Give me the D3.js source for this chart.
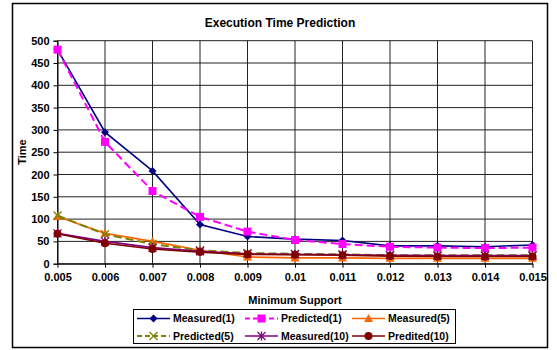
<!DOCTYPE html>
<html>
<head>
<meta charset="utf-8">
<script src="https://cdn.jsdelivr.net/npm/d3@7"></script>
<style>
  body { margin: 0; background: #fff; }
  svg text { font-family: "Liberation Sans", Arial, sans-serif; font-weight: bold; fill: #000; }
</style>
</head>
<body>
<div id="chart"></div>
<script>
// minimum support values (x categories)
const supports = ["0.005", "0.006", "0.007", "0.008", "0.009", "0.01", "0.011", "0.012", "0.013", "0.014", "0.015"];
const yTicks = [0, 50, 100, 150, 200, 250, 300, 350, 400, 450, 500];

const measured1  = [480, 295, 208, 88, 61, 55, 52, 40, 40, 38, 42];
const predicted1 = [480, 273, 163, 105, 72, 53, 44, 38, 36, 35, 36];
const measured5  = [106, 68, 50, 30, 15, 13, 13, 12, 12, 12, 12];
const predicted5 = [108, 66, 44, 30, 24, 22, 21, 19, 19, 19, 19];
const measured10 = [68, 50, 36, 28, 22, 21, 20, 19, 18, 18, 18];
const predited10 = [67, 46, 33, 26, 21, 20, 19, 17, 16, 16, 16];

const seriesList = [
  {name: "Measured(1)",  values: measured1,  color: "#000080", marker: "diamond", dash: null},
  {name: "Predicted(1)", values: predicted1, color: "#FF00FF", marker: "square",  dash: "8,4"},
  {name: "Measured(5)",  values: measured5,  color: "#FF6600", marker: "triangle", dash: null},
  {name: "Predicted(5)", values: predicted5, color: "#808000", marker: "x",       dash: "8,4"},
  {name: "Measured(10)", values: measured10, color: "#800080", marker: "star",    dash: null},
  {name: "Predited(10)", values: predited10, color: "#800000", marker: "circle",  dash: null}
];

const width = 557, height = 350;
const plot = {left: 57.5, right: 532.5, top: 40.7, bottom: 263.7};

const svg = d3.select("#chart").append("svg")
    .attr("width", width)
    .attr("height", height);

// outer chart border
svg.append("rect")
    .attr("x", 12.5).attr("y", 3.5)
    .attr("width", 535).attr("height", 344)
    .attr("fill", "#fff")
    .attr("stroke", "#000")
    .attr("stroke-width", 1.5);

const xScale = d3.scalePoint().domain(supports).range([plot.left, plot.right]);
const yScale = d3.scaleLinear().domain([0, 500]).range([plot.bottom, plot.top]);

// grid
const grid = svg.append("g").attr("stroke", "#222").attr("stroke-width", 1);
grid.selectAll(".h").data(yTicks).join("line")
    .attr("x1", plot.left).attr("x2", plot.right)
    .attr("y1", d => yScale(d)).attr("y2", d => yScale(d));
grid.selectAll(".v").data(supports).join("line")
    .attr("x1", d => xScale(d)).attr("x2", d => xScale(d))
    .attr("y1", plot.top).attr("y2", plot.bottom);

// axes
svg.append("g")
    .attr("transform", `translate(${plot.left},0)`)
    .call(d3.axisLeft(yScale).tickValues(yTicks).tickSize(4).tickPadding(4))
    .call(g => g.selectAll("text").style("font-size", "11px"))
    .call(g => g.selectAll("line, path").attr("stroke", "#000"));

svg.append("g")
    .attr("transform", `translate(0,${plot.bottom})`)
    .call(d3.axisBottom(xScale).tickSize(4).tickPadding(6).tickSizeOuter(0))
    .call(g => g.selectAll("text").style("font-size", "11px"))
    .call(g => g.selectAll("line, path").attr("stroke", "#000"));

// titles
svg.append("text")
    .attr("x", 280).attr("y", 27)
    .attr("text-anchor", "middle")
    .style("font-size", "12px")
    .text("Execution Time Prediction");

svg.append("text")
    .attr("x", 295).attr("y", 304)
    .attr("text-anchor", "middle")
    .style("font-size", "11px")
    .text("Minimum Support");

svg.append("text")
    .attr("transform", "translate(26,152) rotate(-90)")
    .attr("text-anchor", "middle")
    .style("font-size", "11px")
    .text("Time");

function drawMarker(g, type, color) {
  if (type === "diamond") {
    g.append("path").attr("d", "M0,-4L4,0L0,4L-4,0Z").attr("fill", color);
  } else if (type === "square") {
    g.append("rect").attr("x", -4).attr("y", -4).attr("width", 8).attr("height", 8).attr("fill", color);
  } else if (type === "triangle") {
    g.append("path").attr("d", "M0,-4.5L4.5,3.5L-4.5,3.5Z").attr("fill", color);
  } else if (type === "x") {
    g.append("path").attr("d", "M-4,-4L4,4M-4,4L4,-4").attr("stroke", color).attr("stroke-width", 1.3);
  } else if (type === "star") {
    g.append("path").attr("d", "M-4,-4L4,4M-4,4L4,-4M0,-4.5L0,4.5").attr("stroke", color).attr("stroke-width", 1.3);
  } else if (type === "circle") {
    g.append("circle").attr("r", 4).attr("fill", color);
  }
}

const line = d3.line()
    .x((d, i) => xScale(supports[i]))
    .y(d => yScale(d));

// draw series
seriesList.forEach(s => {
  const g = svg.append("g");
  g.append("path")
      .attr("d", line(s.values))
      .attr("fill", "none")
      .attr("stroke", s.color)
      .attr("stroke-width", s.dash ? 2 : 1.6)
      .attr("stroke-dasharray", s.dash);
  s.values.forEach((v, i) => {
    const m = g.append("g").attr("transform", `translate(${xScale(supports[i])},${yScale(v)})`);
    drawMarker(m, s.marker, s.color);
  });
});

// legend
const legend = svg.append("g");
legend.append("rect")
    .attr("x", 133.5).attr("y", 309.5)
    .attr("width", 322).attr("height", 34)
    .attr("fill", "#fff").attr("stroke", "#000").attr("stroke-width", 1);

const colX = [137, 245, 352];
const rowY = [318.5, 336];
seriesList.forEach((s, i) => {
  const x0 = colX[i % 3], y0 = rowY[Math.floor(i / 3)];
  const item = legend.append("g");
  item.append("line")
      .attr("x1", x0).attr("x2", x0 + 33)
      .attr("y1", y0).attr("y2", y0)
      .attr("stroke", s.color)
      .attr("stroke-width", s.dash ? 2 : 1.6)
      .attr("stroke-dasharray", s.dash ? "5,3" : null);
  drawMarker(item.append("g").attr("transform", `translate(${x0 + 16.5},${y0})`), s.marker, s.color);
  item.append("text")
      .attr("x", x0 + 36).attr("y", y0 + 3.8)
      .style("font-size", "10.5px")
      .text(s.name);
});
</script>
</body>
</html>
